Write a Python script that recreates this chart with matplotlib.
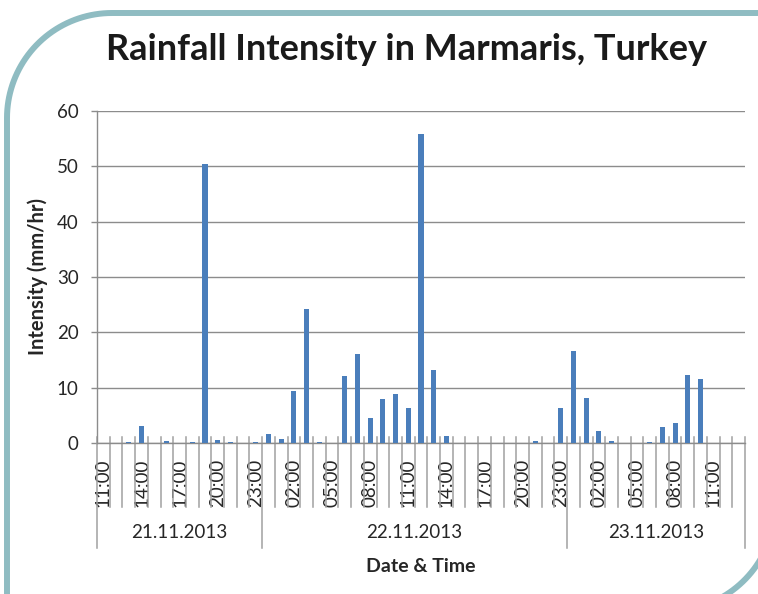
import numpy as np
import matplotlib
matplotlib.use('Agg')
import matplotlib.pyplot as plt
from matplotlib.lines import Line2D

plt.rcParams['font.family'] = ['Lato', 'DejaVu Sans']

# hourly categories: 21.11 11:00 .. 23.11 13:00
hours = list(range(11, 24)) + list(range(0, 24)) + list(range(0, 14))
days = ['21.11.2013', '22.11.2013', '23.11.2013']
day_sizes = [13, 24, 14]

intensity = [
    # 21.11.2013  11:00 - 23:00
    0, 0, 0.2, 3.0, 0, 0.4, 0, 0.2, 50.4, 0.6, 0.2, 0, 0.2,
    # 22.11.2013  00:00 - 23:00
    1.7, 0.8, 9.4, 24.2, 0.2, 0, 12.1, 16.0, 4.5, 7.9, 8.9, 6.3,
    55.8, 13.2, 1.3, 0, 0, 0, 0, 0, 0, 0.4, 0, 6.3,
    # 23.11.2013  00:00 - 13:00
    16.6, 8.1, 2.1, 0.3, 0, 0, 0.2, 2.9, 3.7, 12.3, 11.5, 0, 0, 0,
]

W, H = 758, 594
BAR = '#4a7ebb'
GRID = '#8c8c8c'
TXT = '#262626'
EDGE = '#8fbcc2'

fig = plt.figure(figsize=(W / 100, H / 100), dpi=100)
ax = fig.add_axes([97 / W, (H - 443) / H, 648 / W, 332 / H])

x = np.arange(len(intensity))
ax.bar(x, intensity, width=0.4, color=BAR, zorder=3)

ax.set_xlim(-0.5, len(intensity) - 0.5)
ax.set_ylim(0, 60)
ax.set_yticks(range(0, 61, 10))
ax.grid(axis='y', color=GRID, linewidth=1.0, zorder=0)
ax.set_axisbelow(True)
for s in ['top', 'right']:
    ax.spines[s].set_visible(False)
for s in ['left', 'bottom']:
    ax.spines[s].set_color(GRID)
    ax.spines[s].set_linewidth(1.0)
ax.tick_params(axis='y', length=4.3, width=1.0, color=GRID, pad=9,
               labelsize=13.5, labelcolor=TXT)

# every third hour gets a label
lab_idx = list(range(0, len(hours), 3))
ax.set_xticks(lab_idx)
ax.set_xticklabels([f'{hours[i]:02d}:00' for i in lab_idx], rotation=90,
                   fontsize=13.5, color=TXT)
ax.tick_params(axis='x', length=0, pad=11.5)

# category separators and day group separators
axh = 332
day_edges = np.cumsum([0] + day_sizes) - 0.5
for b in np.arange(len(hours) + 1) - 0.5:
    low = -(548 - 443) / axh if b in day_edges else -(507 - 443) / axh
    ax.plot([b, b], [6 / axh, low], color='#a0a0a0', lw=1.1,
            transform=ax.get_xaxis_transform(), clip_on=False, zorder=2)

for name, a, b in zip(days, day_edges[:-1], day_edges[1:]):
    ax.text((a + b) / 2, -(532 - 443) / axh, name, ha='center', va='center',
            fontsize=13.5, color=TXT, transform=ax.get_xaxis_transform())

fig.text(421 / W, 1 - 566 / H, 'Date & Time', ha='center', va='center',
         fontsize=14, fontweight='bold', color=TXT)
fig.text(38 / W, 1 - 277 / H, 'Intensity (mm/hr)', ha='center', va='center',
         rotation=90, fontsize=14.5, fontweight='bold', color=TXT)
fig.text(407 / W, 1 - 50 / H, 'Rainfall Intensity in Marmaris, Turkey',
         ha='center', va='center', fontsize=26, fontweight='bold', color='#1a1a1a')

# rounded frame: top-left and bottom-right corners are rounded
r = 105
t = np.linspace(0, np.pi / 2, 40)
fx = np.concatenate([[7], 112 - r * np.cos(t), [770]])
fy = np.concatenate([[610], 118 - r * np.sin(t), [13]])
fig.add_artist(Line2D(fx / W, 1 - fy / H, color=EDGE, lw=4.3,
                      transform=fig.transFigure))
bx = 670 + r * np.cos(t)
by = 506 + r * np.sin(t)
fig.add_artist(Line2D(bx / W, 1 - by / H, color=EDGE, lw=4.3,
                      transform=fig.transFigure))

fig.savefig('out.png', dpi=100)
